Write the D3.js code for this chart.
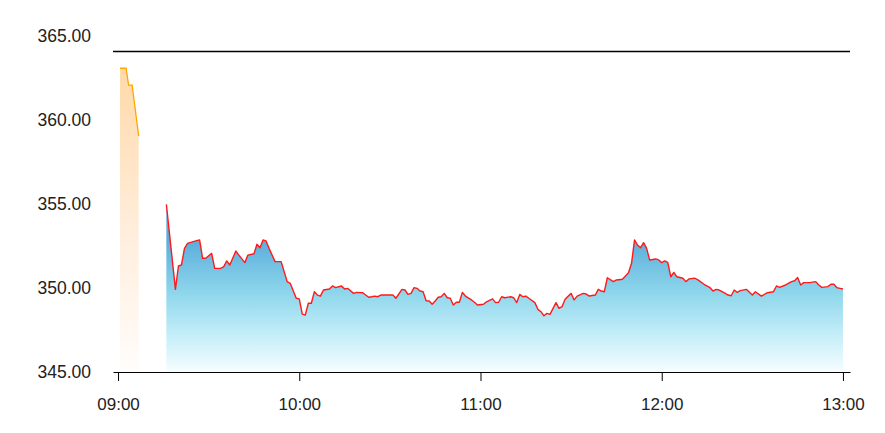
<!DOCTYPE html>
<html>
<head>
<meta charset="utf-8">
<script src="https://cdn.jsdelivr.net/npm/d3@7/dist/d3.min.js"></script>
<style>
  html, body { margin: 0; padding: 0; background: #fff; }
  svg { display: block; font-family: "Liberation Sans", Arial, sans-serif; }
</style>
</head>
<body>
<svg id="chart" width="885" height="433"></svg>
<script>
// ---- data ----
const yTicks = [345, 350, 355, 360, 365];
const xTicks = ["09:00", "10:00", "11:00", "12:00", "13:00"];

const preTimes = ["09:00:40", "09:02:40", "09:03:30", "09:04:40", "09:06:50"];
const preValues = [363.08, 363.08, 362.07, 362.07, 359.05];

const mainTimes = [
  "09:16","09:19","09:20","09:21","09:22","09:23","09:26","09:27","09:28","09:29",
  "09:31","09:32","09:34","09:35","09:36","09:37","09:39","09:40","09:42","09:43",
  "09:45","09:46","09:47","09:48","09:49","09:50","09:52","09:54","09:56","09:57",
  "09:59","10:00","10:01","10:02","10:03","10:04","10:05","10:06","10:07","10:08",
  "10:10","10:11","10:12","10:14","10:15","10:16","10:18","10:19","10:21","10:23",
  "10:24","10:25","10:26","10:27","10:29","10:31","10:32","10:34","10:35","10:36",
  "10:37","10:38","10:39","10:40","10:41","10:42","10:43","10:44","10:45","10:46",
  "10:47","10:48","10:49","10:50","10:51","10:52","10:53","10:54","10:55","10:57",
  "10:58","10:59","11:01","11:02","11:04","11:05","11:06","11:07","11:08","11:10",
  "11:11","11:12","11:13","11:14","11:15","11:16","11:18","11:19","11:20","11:21",
  "11:22","11:23","11:25","11:26","11:27","11:28","11:30","11:31","11:32","11:34",
  "11:35","11:36","11:38","11:39","11:40","11:41","11:42","11:44","11:45","11:47",
  "11:49","11:50","11:51","11:52","11:53","11:54","11:55","11:56","11:58","11:59",
  "12:00","12:01","12:02","12:03","12:04","12:05","12:07","12:08","12:09","12:11",
  "12:12","12:14","12:16","12:17","12:18","12:19","12:20","12:22","12:23","12:24",
  "12:25","12:26","12:28","12:30","12:31","12:33","12:35","12:37","12:38","12:39",
  "12:41","12:43","12:44","12:45","12:46","12:47","12:49","12:51","12:52","12:53",
  "12:55","12:56","12:57","12:58","12:59","13:00"
];
const mainValues = [
  354.98,349.92,351.31,351.37,352.36,352.66,352.82,352.86,351.77,351.77,
  352.06,351.17,351.17,351.27,351.61,351.37,352.20,351.96,351.51,351.96,
  352.04,352.60,352.40,352.86,352.80,352.36,351.57,351.57,350.38,350.28,
  349.39,349.35,348.45,348.39,349.09,349.09,349.78,349.58,349.52,349.88,
  349.94,350.12,350.02,350.12,349.94,349.98,349.68,349.74,349.72,349.45,
  349.48,349.52,349.48,349.58,349.58,349.58,349.39,349.92,349.88,349.62,
  349.68,350.02,349.98,349.82,349.78,349.24,349.23,349.03,349.23,349.45,
  349.48,349.68,349.42,349.39,348.99,349.15,349.15,349.74,349.52,349.29,
  349.15,348.99,349.03,349.18,349.35,349.13,349.15,349.48,349.42,349.48,
  349.42,349.13,349.62,349.48,349.52,349.39,349.13,348.73,348.59,348.35,
  348.49,348.43,349.13,348.79,348.89,349.33,349.68,349.29,349.52,349.68,
  349.64,349.52,349.58,349.92,349.82,349.78,350.61,350.38,350.48,350.52,
  350.91,351.47,352.86,352.56,352.40,352.70,352.36,351.67,351.73,351.67,
  351.51,351.61,351.53,350.67,350.93,350.67,350.58,350.38,350.54,350.58,
  350.48,350.22,350.02,349.82,349.92,349.88,349.78,349.58,349.54,349.88,
  349.74,349.84,349.92,349.58,349.78,349.52,349.72,349.78,350.12,350.04,
  350.18,350.38,350.43,350.63,350.18,350.32,350.32,350.38,350.18,350.04,
  350.08,350.22,350.22,350.02,349.98,349.94
];

// ---- setup ----
const parseHMS = d3.timeParse("%H:%M:%S");
const parseHM = d3.timeParse("%H:%M");
const parseT = s => s.length === 5 ? parseHM(s) : parseHMS(s);

const pre = preTimes.map((t, i) => ({ t: parseT(t), v: preValues[i] }));
const main = mainTimes.map((t, i) => ({ t: parseT(t), v: mainValues[i] }));

const svg = d3.select("#chart");
const plot = { left: 113, right: 850, top: 51, bottom: 372 };

const x = d3.scaleTime()
  .domain([parseT("08:58:20"), parseT("13:02:20")])
  .range([plot.left, plot.right]);
const y = d3.scaleLinear()
  .domain([345, 365])
  .range([plot.bottom, 36]);

const defs = svg.append("defs");
const gOr = defs.append("linearGradient").attr("id", "gOrange")
  .attr("x1", 0).attr("y1", 0).attr("x2", 0).attr("y2", 1);
gOr.append("stop").attr("offset", "0%").attr("stop-color", "#ffd9a8");
gOr.append("stop").attr("offset", "55%").attr("stop-color", "#ffeedd");
gOr.append("stop").attr("offset", "100%").attr("stop-color", "#fffdfb");

const gBl = defs.append("linearGradient").attr("id", "gBlue")
  .attr("gradientUnits", "userSpaceOnUse")
  .attr("x1", 0).attr("x2", 0).attr("y1", 240).attr("y2", plot.bottom);
gBl.append("stop").attr("offset", "0%").attr("stop-color", "#5aaddb");
gBl.append("stop").attr("offset", "40%").attr("stop-color", "#8ed6ec");
gBl.append("stop").attr("offset", "72%").attr("stop-color", "#c4eef8");
gBl.append("stop").attr("offset", "100%").attr("stop-color", "#f6fdff");

const area = d3.area().x(d => x(d.t)).y0(y(345)).y1(d => y(d.v));
const line = d3.line().x(d => x(d.t)).y(d => y(d.v));

svg.append("path").datum(pre).attr("d", area).attr("fill", "url(#gOrange)");
svg.append("path").datum(pre).attr("d", line)
  .attr("fill", "none").attr("stroke", "#ffa500").attr("stroke-width", 1.3);

svg.append("path").datum(main).attr("d", area).attr("fill", "url(#gBlue)");
svg.append("path").datum(main).attr("d", line)
  .attr("fill", "none").attr("stroke", "#ff1a1a").attr("stroke-width", 1.4)
  .attr("stroke-linejoin", "round");

// top frame line
svg.append("line")
  .attr("x1", plot.left).attr("x2", plot.right)
  .attr("y1", plot.top + 0.5).attr("y2", plot.top + 0.5)
  .attr("stroke", "#000").attr("stroke-width", 1.5);

// y axis (labels only)
const yAxis = svg.append("g").attr("transform", "translate(91,0)")
  .call(d3.axisLeft(y).tickValues(yTicks).tickSize(0).tickPadding(0).tickFormat(d3.format(".2f")));
yAxis.select(".domain").remove();
yAxis.selectAll("text").attr("font-size", 17.5).attr("fill", "#222")
  .attr("font-family", "'Liberation Sans', Arial, sans-serif");

// x axis
const xAxis = svg.append("g").attr("transform", `translate(0,${plot.bottom})`)
  .call(d3.axisBottom(x).tickValues(xTicks.map(parseT)).tickSize(9).tickSizeOuter(0)
    .tickPadding(17).tickFormat(d3.timeFormat("%H:%M")));
xAxis.select(".domain").attr("stroke", "#000");
xAxis.selectAll(".tick line").attr("stroke", "#000");
xAxis.selectAll("text").attr("font-size", 17).attr("fill", "#222")
  .attr("font-family", "'Liberation Sans', Arial, sans-serif");
</script>
</body>
</html>
